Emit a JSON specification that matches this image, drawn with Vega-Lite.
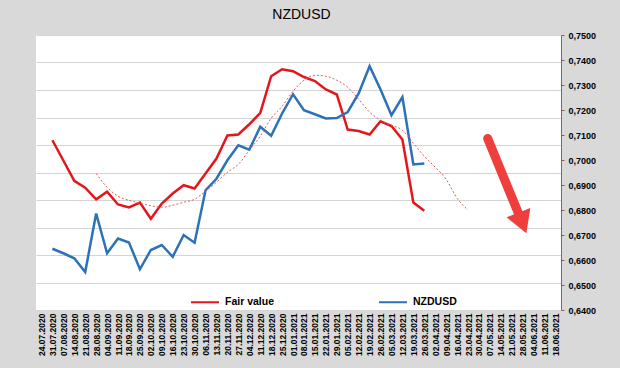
{
  "$schema": "https://vega.github.io/schema/vega-lite/v6.json",
  "autosize": {"type": "none"},
  "width": 525,
  "height": 275,
  "padding": {"left": 36, "top": 35, "right": 59, "bottom": 58},
  "background": "#d9d9d9",
  "title": {"text": "NZDUSD", "font": "Liberation Sans", "fontSize": 14, "fontWeight": "normal", "color": "#000000", "anchor": "middle", "dx": 3, "offset": 9},
  "config": {
    "view": {"fill": "#ffffff", "stroke": null},
    "font": "Liberation Sans"
  },
  "datasets": {
    "lines": [
      {"date": "2020-07-31", "series": "Fair value", "value": 0.7079},
      {"date": "2020-08-07", "series": "Fair value", "value": 0.6998},
      {"date": "2020-08-14", "series": "Fair value", "value": 0.6917},
      {"date": "2020-08-21", "series": "Fair value", "value": 0.6889},
      {"date": "2020-08-28", "series": "Fair value", "value": 0.6843},
      {"date": "2020-09-04", "series": "Fair value", "value": 0.6873},
      {"date": "2020-09-11", "series": "Fair value", "value": 0.6822},
      {"date": "2020-09-18", "series": "Fair value", "value": 0.6810},
      {"date": "2020-09-25", "series": "Fair value", "value": 0.6830},
      {"date": "2020-10-02", "series": "Fair value", "value": 0.6765},
      {"date": "2020-10-09", "series": "Fair value", "value": 0.6826},
      {"date": "2020-10-16", "series": "Fair value", "value": 0.6866},
      {"date": "2020-10-23", "series": "Fair value", "value": 0.6899},
      {"date": "2020-10-30", "series": "Fair value", "value": 0.6886},
      {"date": "2020-11-06", "series": "Fair value", "value": 0.6946},
      {"date": "2020-11-13", "series": "Fair value", "value": 0.7006},
      {"date": "2020-11-20", "series": "Fair value", "value": 0.7098},
      {"date": "2020-11-27", "series": "Fair value", "value": 0.7102},
      {"date": "2020-12-04", "series": "Fair value", "value": 0.7143},
      {"date": "2020-12-11", "series": "Fair value", "value": 0.7188},
      {"date": "2020-12-18", "series": "Fair value", "value": 0.7335},
      {"date": "2020-12-25", "series": "Fair value", "value": 0.7363},
      {"date": "2021-01-01", "series": "Fair value", "value": 0.7355},
      {"date": "2021-01-08", "series": "Fair value", "value": 0.7332},
      {"date": "2021-01-15", "series": "Fair value", "value": 0.7316},
      {"date": "2021-01-22", "series": "Fair value", "value": 0.7282},
      {"date": "2021-01-29", "series": "Fair value", "value": 0.7262},
      {"date": "2021-02-05", "series": "Fair value", "value": 0.7122},
      {"date": "2021-02-12", "series": "Fair value", "value": 0.7116},
      {"date": "2021-02-19", "series": "Fair value", "value": 0.7102},
      {"date": "2021-02-26", "series": "Fair value", "value": 0.7155},
      {"date": "2021-03-05", "series": "Fair value", "value": 0.7136},
      {"date": "2021-03-12", "series": "Fair value", "value": 0.7082},
      {"date": "2021-03-19", "series": "Fair value", "value": 0.6830},
      {"date": "2021-03-26", "series": "Fair value", "value": 0.6797},
      {"date": "2020-07-31", "series": "NZDUSD", "value": 0.6645},
      {"date": "2020-08-07", "series": "NZDUSD", "value": 0.6627},
      {"date": "2020-08-14", "series": "NZDUSD", "value": 0.6607},
      {"date": "2020-08-21", "series": "NZDUSD", "value": 0.6552},
      {"date": "2020-08-28", "series": "NZDUSD", "value": 0.6786},
      {"date": "2020-09-04", "series": "NZDUSD", "value": 0.6627},
      {"date": "2020-09-11", "series": "NZDUSD", "value": 0.6686},
      {"date": "2020-09-18", "series": "NZDUSD", "value": 0.6670},
      {"date": "2020-09-25", "series": "NZDUSD", "value": 0.6563},
      {"date": "2020-10-02", "series": "NZDUSD", "value": 0.6640},
      {"date": "2020-10-09", "series": "NZDUSD", "value": 0.6660},
      {"date": "2020-10-16", "series": "NZDUSD", "value": 0.6613},
      {"date": "2020-10-23", "series": "NZDUSD", "value": 0.6700},
      {"date": "2020-10-30", "series": "NZDUSD", "value": 0.6669},
      {"date": "2020-11-06", "series": "NZDUSD", "value": 0.6879},
      {"date": "2020-11-13", "series": "NZDUSD", "value": 0.6925},
      {"date": "2020-11-20", "series": "NZDUSD", "value": 0.6999},
      {"date": "2020-11-27", "series": "NZDUSD", "value": 0.7059},
      {"date": "2020-12-04", "series": "NZDUSD", "value": 0.7041},
      {"date": "2020-12-11", "series": "NZDUSD", "value": 0.7133},
      {"date": "2020-12-18", "series": "NZDUSD", "value": 0.7097},
      {"date": "2020-12-25", "series": "NZDUSD", "value": 0.7186},
      {"date": "2021-01-01", "series": "NZDUSD", "value": 0.7263},
      {"date": "2021-01-08", "series": "NZDUSD", "value": 0.7199},
      {"date": "2021-01-15", "series": "NZDUSD", "value": 0.7183},
      {"date": "2021-01-22", "series": "NZDUSD", "value": 0.7166},
      {"date": "2021-01-29", "series": "NZDUSD", "value": 0.7168},
      {"date": "2021-02-05", "series": "NZDUSD", "value": 0.7192},
      {"date": "2021-02-12", "series": "NZDUSD", "value": 0.7266},
      {"date": "2021-02-19", "series": "NZDUSD", "value": 0.7375},
      {"date": "2021-02-26", "series": "NZDUSD", "value": 0.7282},
      {"date": "2021-03-05", "series": "NZDUSD", "value": 0.7179},
      {"date": "2021-03-12", "series": "NZDUSD", "value": 0.7252},
      {"date": "2021-03-19", "series": "NZDUSD", "value": 0.6982},
      {"date": "2021-03-26", "series": "NZDUSD", "value": 0.6986}
    ],
    "ma": [
      {"date": "2020-08-28", "value": 0.6946},
      {"date": "2020-09-04", "value": 0.6891},
      {"date": "2020-09-11", "value": 0.6855},
      {"date": "2020-09-18", "value": 0.6839},
      {"date": "2020-09-25", "value": 0.6827},
      {"date": "2020-10-02", "value": 0.6817},
      {"date": "2020-10-09", "value": 0.6811},
      {"date": "2020-10-16", "value": 0.6819},
      {"date": "2020-10-23", "value": 0.6831},
      {"date": "2020-10-30", "value": 0.6843},
      {"date": "2020-11-06", "value": 0.6875},
      {"date": "2020-11-13", "value": 0.6911},
      {"date": "2020-11-20", "value": 0.6951},
      {"date": "2020-11-27", "value": 0.6983},
      {"date": "2020-12-04", "value": 0.7039},
      {"date": "2020-12-11", "value": 0.7095},
      {"date": "2020-12-18", "value": 0.7167},
      {"date": "2020-12-25", "value": 0.7215},
      {"date": "2021-01-01", "value": 0.7275},
      {"date": "2021-01-08", "value": 0.7319},
      {"date": "2021-01-15", "value": 0.7339},
      {"date": "2021-01-22", "value": 0.7335},
      {"date": "2021-01-29", "value": 0.7319},
      {"date": "2021-02-05", "value": 0.7291},
      {"date": "2021-02-12", "value": 0.7243},
      {"date": "2021-02-19", "value": 0.7192},
      {"date": "2021-02-26", "value": 0.7159},
      {"date": "2021-03-05", "value": 0.7139},
      {"date": "2021-03-12", "value": 0.7119},
      {"date": "2021-03-19", "value": 0.7067},
      {"date": "2021-03-26", "value": 0.7015},
      {"date": "2021-04-02", "value": 0.6971},
      {"date": "2021-04-09", "value": 0.6923},
      {"date": "2021-04-16", "value": 0.6847},
      {"date": "2021-04-23", "value": 0.6800}
    ],
    "arrow": [
      {"date": "2021-05-05T14:00:00Z", "value": 0.7086, "date2": "2021-05-27T19:00:00Z", "value2": 0.6748}
    ],
    "arrowhead": [
      {"date": "2021-05-27T19:00:00Z", "value": 0.6748}
    ]
  },
  "resolve": {"scale": {"y": "independent"}},
  "layer": [
    {
      "data": {"values": [{"grid": 0}]},
      "mark": {"type": "point", "opacity": 0},
      "encoding": {
        "y": {
          "field": "grid",
          "type": "quantitative",
          "scale": {"domain": [0, 10]},
          "axis": {"orient": "left", "grid": true, "gridColor": "#d4d4d4", "gridWidth": 1, "labels": false, "ticks": false, "domain": false, "values": [0, 1, 2, 3, 4, 5, 6, 7, 8, 9, 10], "title": null}
        }
      }
    },
    {
      "encoding": {
        "x": {
          "field": "date",
          "type": "temporal",
          "scale": {"type": "utc", "domain": [{"year": 2020, "month": 7, "date": 20, "hours": 12, "utc": true}, {"year": 2021, "month": 6, "date": 21, "hours": 12, "utc": true}]},
          "axis": {
            "title": null,
            "labelExpr": "utcFormat(datum.value, '%d.%m.%Y')",
            "labelAngle": 270,
            "labelFont": "Liberation Sans",
            "labelFontSize": 8.5,
            "labelFontWeight": "bold",
            "labelColor": "#000000",
            "labelPadding": 3,
            "labelOverlap": false,
            "labelFlush": false,
            "ticks": false,
            "domain": false,
            "grid": false,
            "values": [
              {"year": 2020, "month": 7, "date": 24, "utc": true},
              {"year": 2020, "month": 7, "date": 31, "utc": true},
              {"year": 2020, "month": 8, "date": 7, "utc": true},
              {"year": 2020, "month": 8, "date": 14, "utc": true},
              {"year": 2020, "month": 8, "date": 21, "utc": true},
              {"year": 2020, "month": 8, "date": 28, "utc": true},
              {"year": 2020, "month": 9, "date": 4, "utc": true},
              {"year": 2020, "month": 9, "date": 11, "utc": true},
              {"year": 2020, "month": 9, "date": 18, "utc": true},
              {"year": 2020, "month": 9, "date": 25, "utc": true},
              {"year": 2020, "month": 10, "date": 2, "utc": true},
              {"year": 2020, "month": 10, "date": 9, "utc": true},
              {"year": 2020, "month": 10, "date": 16, "utc": true},
              {"year": 2020, "month": 10, "date": 23, "utc": true},
              {"year": 2020, "month": 10, "date": 30, "utc": true},
              {"year": 2020, "month": 11, "date": 6, "utc": true},
              {"year": 2020, "month": 11, "date": 13, "utc": true},
              {"year": 2020, "month": 11, "date": 20, "utc": true},
              {"year": 2020, "month": 11, "date": 27, "utc": true},
              {"year": 2020, "month": 12, "date": 4, "utc": true},
              {"year": 2020, "month": 12, "date": 11, "utc": true},
              {"year": 2020, "month": 12, "date": 18, "utc": true},
              {"year": 2020, "month": 12, "date": 25, "utc": true},
              {"year": 2021, "month": 1, "date": 1, "utc": true},
              {"year": 2021, "month": 1, "date": 8, "utc": true},
              {"year": 2021, "month": 1, "date": 15, "utc": true},
              {"year": 2021, "month": 1, "date": 22, "utc": true},
              {"year": 2021, "month": 1, "date": 29, "utc": true},
              {"year": 2021, "month": 2, "date": 5, "utc": true},
              {"year": 2021, "month": 2, "date": 12, "utc": true},
              {"year": 2021, "month": 2, "date": 19, "utc": true},
              {"year": 2021, "month": 2, "date": 26, "utc": true},
              {"year": 2021, "month": 3, "date": 5, "utc": true},
              {"year": 2021, "month": 3, "date": 12, "utc": true},
              {"year": 2021, "month": 3, "date": 19, "utc": true},
              {"year": 2021, "month": 3, "date": 26, "utc": true},
              {"year": 2021, "month": 4, "date": 2, "utc": true},
              {"year": 2021, "month": 4, "date": 9, "utc": true},
              {"year": 2021, "month": 4, "date": 16, "utc": true},
              {"year": 2021, "month": 4, "date": 23, "utc": true},
              {"year": 2021, "month": 4, "date": 30, "utc": true},
              {"year": 2021, "month": 5, "date": 7, "utc": true},
              {"year": 2021, "month": 5, "date": 14, "utc": true},
              {"year": 2021, "month": 5, "date": 21, "utc": true},
              {"year": 2021, "month": 5, "date": 28, "utc": true},
              {"year": 2021, "month": 6, "date": 4, "utc": true},
              {"year": 2021, "month": 6, "date": 11, "utc": true},
              {"year": 2021, "month": 6, "date": 18, "utc": true}
            ]
          }
        },
        "y": {
          "field": "value",
          "type": "quantitative",
          "scale": {"domain": [0.64, 0.75], "nice": false, "zero": false},
          "axis": {
            "orient": "right",
            "title": null,
            "grid": false,
            "values": [0.64, 0.65, 0.66, 0.67, 0.68, 0.69, 0.70, 0.71, 0.72, 0.73, 0.74, 0.75],
            "labelExpr": "replace(format(datum.value, '.4f'), '.', ',')",
            "labelFont": "Liberation Sans",
            "labelFontSize": 9,
            "labelFontWeight": "bold",
            "labelColor": "#000000",
            "labelPadding": 4,
            "labelOverlap": false,
            "labelFlush": false,
            "domainColor": "#8a6060",
            "tickColor": "#8a6060",
            "tickSize": 3
          }
        }
      },
      "layer": [
        {
          "data": {"name": "lines"},
          "mark": {"type": "line", "strokeWidth": 2.5},
          "encoding": {
            "color": {
              "field": "series",
              "type": "nominal",
              "scale": {"domain": ["Fair value", "NZDUSD"], "range": ["#e3171b", "#2b72b8"]},
              "legend": {
                "title": null,
                "orient": "none",
                "legendX": 154,
                "legendY": 252,
                "direction": "horizontal",
                "padding": 0,
                "symbolType": "stroke",
                "symbolSize": 784,
                "symbolStrokeWidth": 2,
                "labelFont": "Liberation Sans",
                "labelFontSize": 10.5,
                "labelFontWeight": "bold",
                "labelColor": "#000000",
                "labelOffset": 5,
                "columnPadding": 100
              }
            }
          }
        },
        {
          "data": {"name": "ma"},
          "mark": {"type": "line", "color": "#e05a5a", "strokeWidth": 1, "strokeDash": [2, 2], "interpolate": "monotone"}
        },
        {
          "data": {"name": "arrow"},
          "mark": {"type": "rule", "color": "#ee3f3c", "strokeWidth": 9, "strokeCap": "round"},
          "encoding": {
            "x2": {"field": "date2"},
            "y2": {"field": "value2"}
          }
        },
        {
          "data": {"name": "arrowhead"},
          "mark": {"type": "point", "shape": "triangle-down", "filled": true, "color": "#ee3f3c", "opacity": 1, "size": 650, "angle": -21}
        }
      ]
    }
  ]
}
